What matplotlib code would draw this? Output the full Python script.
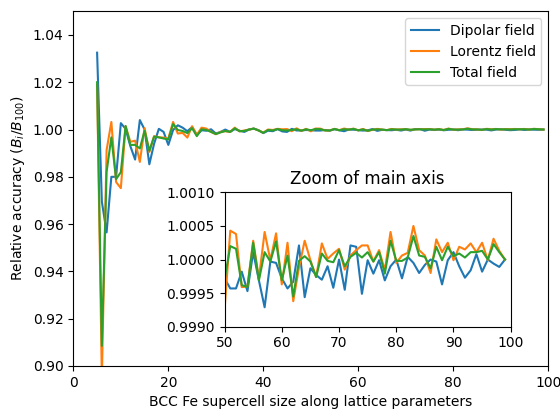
import numpy as np
import matplotlib
matplotlib.use("Agg")
import matplotlib.pyplot as plt
from matplotlib.ticker import FormatStrFormatter

sizes = list(range(5, 100))

dipolar = [
    1.0325, 0.9695, 0.9565, 0.9800, 0.9800, 1.0027, 1.0003, 0.9930, 0.9873, 1.0040,
    1.0000, 0.9853, 0.9940, 1.0003, 0.9990, 0.9935, 0.9998, 1.0018, 1.0008, 0.9993,
    1.0010, 0.9977, 0.9997, 0.9995, 1.0001, 0.9983, 0.9990, 1.0000, 0.9990, 1.0002,
    0.9995, 0.9990, 1.0000, 1.0004, 0.9997, 0.9985, 0.9995, 0.9993, 1.0002, 0.9992,
    0.9990, 1.0003, 0.9996, 0.9996, 0.9998,
    # 50 - 99
    0.99972, 0.99957, 0.99957, 0.99982, 0.99953, 1.00011, 0.99969, 0.99929, 0.99997, 0.99995,
    0.99972, 0.99957, 0.99967, 1.00021, 0.99944, 0.99987, 0.99977, 0.99970, 0.99990, 0.99958,
    1.00000, 0.99955, 1.00021, 1.00019, 0.99949, 0.99999, 0.99979, 0.99999, 0.99969, 0.99990,
    1.00000, 0.99972, 1.00004, 0.99995, 0.99980, 0.99992, 1.00000, 0.99997, 0.99963, 0.99999,
    1.00011, 0.99990, 0.99973, 0.99984, 1.00008, 0.99982, 1.00000, 0.99994, 0.99989, 1.00000,
]

lorentz = [
    1.0190, 0.8950, 0.9913, 1.0032, 0.9778, 0.9752, 1.0014, 0.9948, 0.9953, 0.9863,
    1.0006, 0.9905, 0.9972, 0.9967, 0.9966, 0.9962, 1.0032, 0.9983, 0.9986, 0.9966,
    1.0014, 0.9978, 1.0008, 1.0004, 0.9990, 0.9980, 0.9990, 0.9993, 0.9990, 1.0008,
    0.9992, 0.9996, 1.0000, 1.0004, 0.9996, 0.9987, 1.0000, 0.9998, 1.0003, 1.0001,
    1.0002, 0.9993, 1.0005, 0.9994, 1.0003,
    # 50 - 99
    0.99925, 1.00043, 1.00038, 0.99959, 0.99960, 1.00028, 0.99972, 1.00041, 0.99999, 1.00039,
    0.99963, 1.00025, 0.99938, 0.99988, 1.00028, 0.99999, 0.99974, 1.00024, 1.00001, 1.00009,
    1.00016, 0.99985, 1.00006, 1.00014, 1.00021, 1.00021, 0.99997, 1.00014, 0.99984, 1.00041,
    0.99995, 1.00006, 1.00010, 1.00050, 1.00014, 1.00006, 0.99980, 1.00030, 1.00011, 1.00025,
    0.99999, 1.00019, 1.00015, 1.00024, 1.00011, 1.00025, 0.99999, 1.00031, 1.00013, 1.00000,
]

total = [
    1.0200, 0.9085, 0.9821, 0.9967, 0.9790, 0.9820, 1.0015, 0.9935, 0.9935, 0.9920,
    0.9995, 0.9910, 0.9970, 0.9967, 0.9962, 0.9958, 1.0023, 0.9998, 0.9994, 0.9985,
    1.0006, 0.9972, 1.0001, 0.9998, 0.9990, 0.9981, 0.9988, 0.9994, 0.9990, 1.0005,
    0.9993, 0.9994, 1.0000, 1.0004, 0.9996, 0.9986, 0.9998, 0.9996, 1.0002, 0.9997,
    0.9996, 0.9998, 1.0001, 0.9995, 1.0001,
    # 50 - 99
    0.99970, 1.00020, 1.00016, 0.99962, 0.99959, 1.00025, 0.99969, 1.00011, 0.99997, 1.00027,
    0.99969, 1.00006, 0.99945, 0.99998, 1.00005, 0.99997, 0.99974, 1.00009, 0.99998, 0.99996,
    1.00014, 0.99990, 1.00004, 1.00010, 1.00003, 1.00011, 0.99997, 1.00011, 0.99979, 1.00028,
    0.99998, 0.99998, 1.00003, 1.00035, 1.00006, 1.00004, 0.99987, 1.00019, 0.99999, 1.00019,
    1.00005, 1.00009, 1.00003, 1.00011, 1.00011, 1.00013, 1.00000, 1.00023, 1.00011, 1.00000,
]

labels = ["Dipolar field", "Lorentz field", "Total field"]
colors = ["#1f77b4", "#ff7f0e", "#2ca02c"]

fig = plt.figure(figsize=(5.6, 4.11), dpi=100)
ax = fig.add_axes([0.131, 0.1095, 0.848, 0.863])
for series, lab, c in zip([dipolar, lorentz, total], labels, colors):
    ax.plot(sizes, series, color=c, lw=1.5, label=lab)
ax.set_xlim(0, 100)
ax.set_ylim(0.90, 1.05)
ax.set_yticks(np.arange(0.90, 1.041, 0.02))
ax.yaxis.set_major_formatter(FormatStrFormatter('%.2f'))
ax.set_xlabel("BCC Fe supercell size along lattice parameters")
ax.set_ylabel("Relative accuracy ($B_i/B_{100}$)")
ax.legend(loc="upper right")

ins = fig.add_axes([0.401, 0.205, 0.511, 0.327])
for series, c in zip([dipolar, lorentz, total], colors):
    ins.plot(sizes, series, color=c, lw=1.5)
ins.set_xlim(50, 100)
ins.set_ylim(0.999, 1.001)
ins.set_yticks([0.9990, 0.9995, 1.0000, 1.0005, 1.0010])
ins.yaxis.set_major_formatter(FormatStrFormatter('%.4f'))
ins.set_title("Zoom of main axis")

fig.savefig("out.png", dpi=100)
